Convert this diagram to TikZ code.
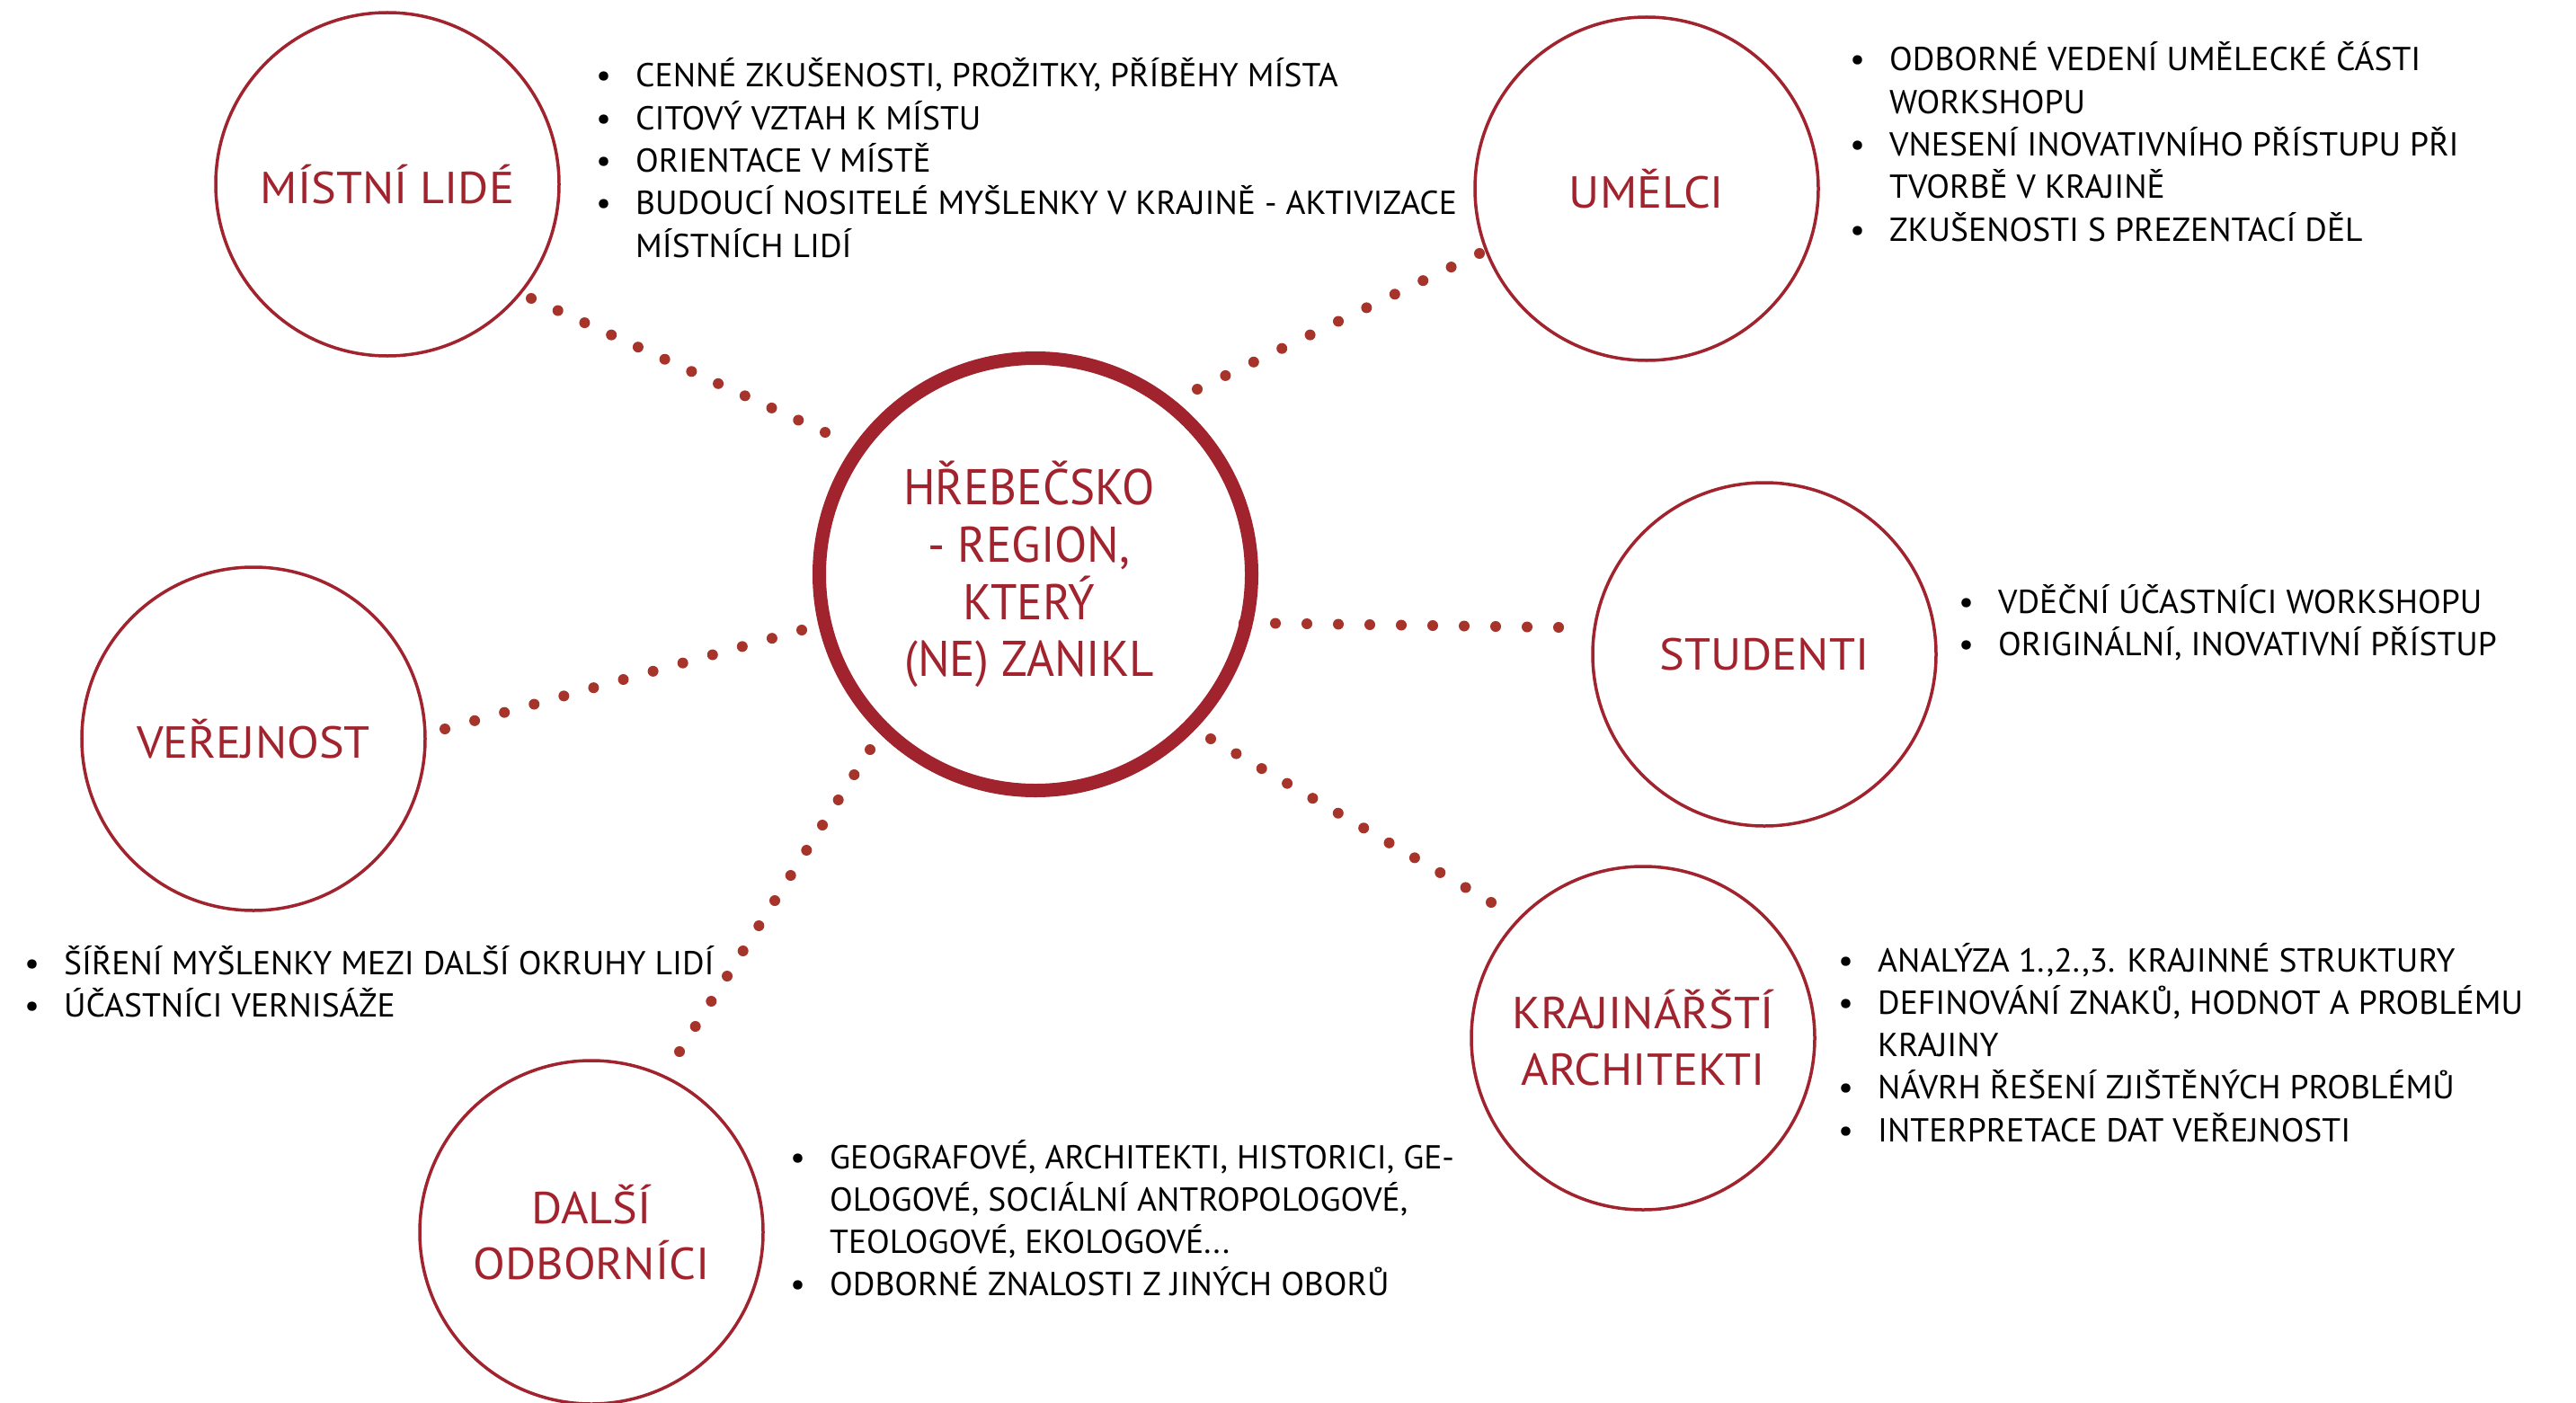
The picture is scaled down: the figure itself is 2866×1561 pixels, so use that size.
\documentclass[tikz,border=0pt]{standalone}
\usepackage{fontspec}
\setmainfont{PT Sans}
\newfontfamily\bodyfont[FakeStretch=1.02]{PT Sans}
\newfontfamily\labelfont[FakeStretch=1.05]{PT Sans}
\newfontfamily\hubfont[FakeStretch=0.95]{PT Sans}
\usetikzlibrary{calc}
\definecolor{cred}{RGB}{160,35,46}
\definecolor{dotred}{RGB}{166,52,42}
\newlength\bulw \setlength\bulw{44bp}
\newcommand\bul{\makebox[\bulw][l]{\textbullet}}
\newcommand\cont{\hspace*{\bulw}}
\newcommand\dotline[3]{\foreach \k in {0,...,#3}{\fill[dotred] ($(#1)!\k/#3!(#2)$) circle[radius=6bp];}}
\begin{document}
\begin{tikzpicture}[x=1bp,y=-1bp,
 role/.style={circle,draw=cred,line width=3.5bp,minimum size=382bp,inner sep=0pt,text=cred,align=center,font=\labelfont\fontsize{50}{63}\selectfont},
 hub/.style={circle,draw=cred,line width=15bp,minimum size=481bp,inner sep=0pt},
 hubtext/.style={text=cred,align=center,inner sep=0pt,font=\hubfont\fontsize{56}{64}\selectfont},
 info/.style={anchor=base west,inner sep=0pt,font=\bodyfont\fontsize{37}{47.5}\selectfont}]
\fill[white] (0,0) rectangle (2866,1561);
\useasboundingbox (0,0) rectangle (2866,1561);
% dotted connectors
\coordinate (l1a) at (591,332); \coordinate (l1b) at (918,481);
\coordinate (l2a) at (1332,433); \coordinate (l2b) at (1646,282);
\coordinate (l3a) at (1384,693); \coordinate (l3b) at (1734,698);
\coordinate (l4a) at (1347,822); \coordinate (l4b) at (1659,1004);
\coordinate (l5a) at (968,834); \coordinate (l5b) at (756,1170);
\coordinate (l6a) at (495,811); \coordinate (l6b) at (892,701);
\dotline{l1a}{l1b}{11}
\dotline{l2a}{l2b}{10}
\dotline{l3a}{l3b}{10}
\dotline{l4a}{l4b}{11}
\dotline{l5a}{l5b}{12}
\dotline{l6a}{l6b}{12}
% circles
\node[hub] (hub) at (1152,639) {};
\node[hubtext] (hubt) at ([xshift=-7bp]hub.center) {HŘEBEČSKO\\- REGION,\\KTERÝ\\(NE) ZANIKL};
\node[role] (mistni) at (431,205) {MÍSTNÍ LIDÉ};
\node[role] (umelci) at (1832,210) {UMĚLCI};
\node[role] (studenti) at (1963,728) {STUDENTI};
\node[role] (verejnost) at (282,822) {VEŘEJNOST};
\node[role] (krajinari) at (1828,1155) {KRAJINÁŘŠTÍ\\ARCHITEKTI};
\node[role] (dalsi) at (658,1371) {DALŠÍ\\ODBORNÍCI};
% texts
\node[info] (t1) at (663,97) {\begin{tabular}[t]{@{}l@{}}
\bul CENNÉ ZKUŠENOSTI, PROŽITKY, PŘÍBĚHY MÍSTA\\
\bul CITOVÝ VZTAH K MÍSTU\\
\bul ORIENTACE V MÍSTĚ\\
\bul BUDOUCÍ NOSITELÉ MYŠLENKY V KRAJINĚ - AKTIVIZACE\\
\cont MÍSTNÍCH LIDÍ\end{tabular}};
\node[info] (t2) at (2058,79) {\begin{tabular}[t]{@{}l@{}}
\bul ODBORNÉ VEDENÍ UMĚLECKÉ ČÁSTI\\
\cont WORKSHOPU\\
\bul VNESENÍ INOVATIVNÍHO PŘÍSTUPU PŘI\\
\cont TVORBĚ V KRAJINĚ\\
\bul ZKUŠENOSTI S PREZENTACÍ DĚL\end{tabular}};
\node[info] (t3) at (2179,682) {\begin{tabular}[t]{@{}l@{}}
\bul VDĚČNÍ ÚČASTNÍCI WORKSHOPU\\
\bul ORIGINÁLNÍ, INOVATIVNÍ PŘÍSTUP\end{tabular}};
\node[info] (t4) at (27,1084) {\begin{tabular}[t]{@{}l@{}}
\bul ŠÍŘENÍ MYŠLENKY MEZI DALŠÍ OKRUHY LIDÍ\\
\bul ÚČASTNÍCI VERNISÁŽE\end{tabular}};
\node[info] (t5) at (2045,1081) {\begin{tabular}[t]{@{}l@{}}
\bul ANALÝZA 1.,2.,3. KRAJINNÉ STRUKTURY\\
\bul DEFINOVÁNÍ ZNAKŮ, HODNOT A PROBLÉMU\\
\cont KRAJINY\\
\bul NÁVRH ŘEŠENÍ ZJIŠTĚNÝCH PROBLÉMŮ\\
\bul INTERPRETACE DAT VEŘEJNOSTI\end{tabular}};
\node[info] (t6) at (879,1300) {\begin{tabular}[t]{@{}l@{}}
\bul GEOGRAFOVÉ, ARCHITEKTI, HISTORICI, GE-\\
\cont OLOGOVÉ, SOCIÁLNÍ ANTROPOLOGOVÉ,\\
\cont TEOLOGOVÉ, EKOLOGOVÉ...\\
\bul ODBORNÉ ZNALOSTI Z JINÝCH OBORŮ\end{tabular}};
\end{tikzpicture}
\end{document}
